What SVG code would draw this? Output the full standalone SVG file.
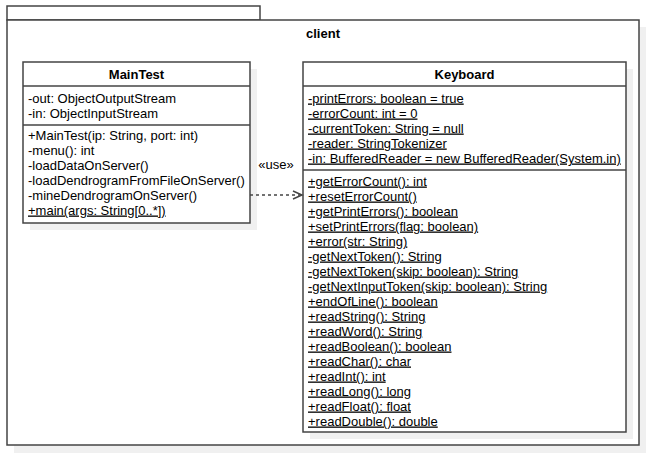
<svg xmlns="http://www.w3.org/2000/svg" width="648" height="454" viewBox="0 0 648 454">
<defs>
<style>
.box{fill:#ffffff;stroke:#444444;stroke-width:1.5}
.sh{fill:#f0f0f0;stroke:none}
.ln{stroke:#444444;stroke-width:1.5;fill:none}
.t{font-family:"Liberation Sans",Arial,sans-serif;font-size:13px;fill:#000000}
.b{font-weight:bold;text-anchor:middle}
.u{text-decoration:underline}
</style>
<marker id="open" markerWidth="12" markerHeight="12" refX="10" refY="5" orient="auto" markerUnits="userSpaceOnUse">
<path d="M1,1 L10,5 L1,9" fill="none" stroke="#444444" stroke-width="1.5"/>
</marker>
</defs>
<rect width="648" height="454" fill="#ffffff"/>
<g id="package-client">
<rect class="sh" x="14" y="27" width="632" height="426"/>
<rect class="box" x="7" y="6" width="253" height="14"/>
<rect class="box" x="7" y="20" width="632" height="425"/>
<text class="t b" x="323" y="38">client</text>
</g>
<g id="MainTest">
<rect class="sh" x="30" y="69" width="227" height="161"/>
<rect class="box" x="23" y="62" width="227" height="161"/>
<line class="ln" x1="23" y1="86" x2="250" y2="86"/>
<line class="ln" x1="23" y1="125" x2="250" y2="125"/>
<text class="t b" x="136.5" y="79">MainTest</text>
<text class="t" x="28" y="102.5">-out: ObjectOutputStream</text>
<text class="t" x="28" y="117.5">-in: ObjectInputStream</text>
<text class="t" x="28" y="139.5">+MainTest(ip: String, port: int)</text>
<text class="t" x="28" y="154.5">-menu(): int</text>
<text class="t" x="28" y="169.5">-loadDataOnServer()</text>
<text class="t" x="28" y="184.5">-loadDendrogramFromFileOnServer()</text>
<text class="t" x="28" y="199.5">-mineDendrogramOnServer()</text>
<text class="t u" x="28" y="214.5">+main(args: String[0..*])</text>
</g>
<g id="Keyboard">
<rect class="sh" x="310" y="69" width="323" height="370"/>
<rect class="box" x="303" y="62" width="323" height="370"/>
<line class="ln" x1="303" y1="86" x2="626" y2="86"/>
<line class="ln" x1="303" y1="170" x2="626" y2="170"/>
<text class="t b" x="464.5" y="79">Keyboard</text>
<text class="t u" x="308" y="102.5">-printErrors: boolean = true</text>
<text class="t u" x="308" y="117.5">-errorCount: int = 0</text>
<text class="t u" x="308" y="132.5">-currentToken: String = null</text>
<text class="t u" x="308" y="147.5">-reader: StringTokenizer</text>
<text class="t u" x="308" y="162.5">-in: BufferedReader = new BufferedReader(System.in)</text>
<text class="t u" x="308" y="185.5">+getErrorCount(): int</text>
<text class="t u" x="308" y="200.5">+resetErrorCount()</text>
<text class="t u" x="308" y="215.5">+getPrintErrors(): boolean</text>
<text class="t u" x="308" y="230.5">+setPrintErrors(flag: boolean)</text>
<text class="t u" x="308" y="245.5">+error(str: String)</text>
<text class="t u" x="308" y="260.5">-getNextToken(): String</text>
<text class="t u" x="308" y="275.5">-getNextToken(skip: boolean): String</text>
<text class="t u" x="308" y="290.5">-getNextInputToken(skip: boolean): String</text>
<text class="t u" x="308" y="305.5">+endOfLine(): boolean</text>
<text class="t u" x="308" y="320.5">+readString(): String</text>
<text class="t u" x="308" y="335.5">+readWord(): String</text>
<text class="t u" x="308" y="350.5">+readBoolean(): boolean</text>
<text class="t u" x="308" y="365.5">+readChar(): char</text>
<text class="t u" x="308" y="380.5">+readInt(): int</text>
<text class="t u" x="308" y="395.5">+readLong(): long</text>
<text class="t u" x="308" y="410.5">+readFloat(): float</text>
<text class="t u" x="308" y="425.5">+readDouble(): double</text>
</g>
<g id="connectors">
<line class="ln" x1="250" y1="195" x2="302" y2="195" stroke-dasharray="3,3" marker-end="url(#open)"/>
<text class="t" x="276" y="168.5" text-anchor="middle">«use»</text>
</g>
</svg>
